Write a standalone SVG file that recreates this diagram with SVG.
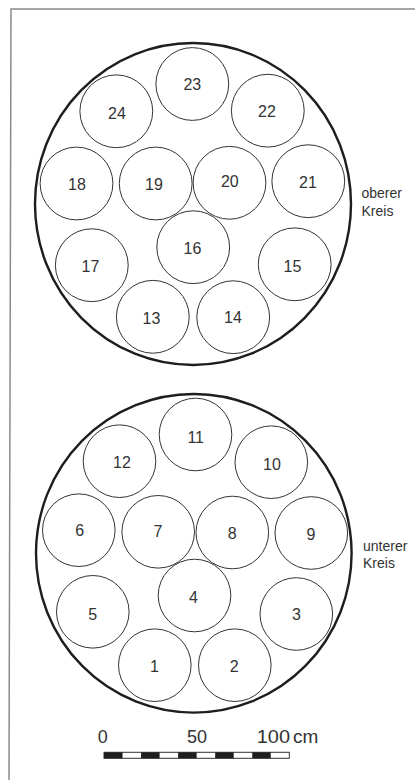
<svg xmlns="http://www.w3.org/2000/svg" width="415" height="780" viewBox="0 0 415 780">
<style>
.frame{fill:none;stroke:#8a8a8a;stroke-width:1.5}
.outer{fill:none;stroke:#1e1e1e;stroke-width:2.4}
.pot{fill:#fff;stroke:#333;stroke-width:1}
.num{font-family:"Liberation Sans",Arial,sans-serif;font-size:16px;fill:#333;text-anchor:middle}
.lbl{font-family:"Liberation Sans",Arial,sans-serif;font-size:14px;fill:#333}
.scale{font-family:"Liberation Sans",Arial,sans-serif;font-size:18px;fill:#333}
</style>
<rect width="415" height="780" fill="#fff"/>
<path class="frame" d="M9,780 L11,9 H415"/>

<g id="oberer-kreis">
  <ellipse class="outer" cx="193" cy="204" rx="158" ry="161"/>
</g>
<g id="n23"><circle class="pot" cx="192.3" cy="84" r="36.4"/><text class="num" x="192.3" y="90">23</text></g>
<g id="n24"><circle class="pot" cx="116.3" cy="111.3" r="36.4"/><text class="num" x="117" y="119">24</text></g>
<g id="n22"><circle class="pot" cx="267.8" cy="110.7" r="36.4"/><text class="num" x="267" y="116.5">22</text></g>
<g id="n18"><circle class="pot" cx="76.5" cy="183.5" r="36.4"/><text class="num" x="77" y="190">18</text></g>
<g id="n19"><circle class="pot" cx="155.7" cy="183.5" r="36.4"/><text class="num" x="154" y="190">19</text></g>
<g id="n20"><circle class="pot" cx="229.5" cy="182.8" r="36.4"/><text class="num" x="229.8" y="187">20</text></g>
<g id="n21"><circle class="pot" cx="308.3" cy="181.2" r="36.4"/><text class="num" x="308" y="188">21</text></g>
<g id="n16"><circle class="pot" cx="193.2" cy="247.2" r="36.4"/><text class="num" x="192.5" y="253.5">16</text></g>
<g id="n17"><circle class="pot" cx="91.8" cy="265.2" r="36.4"/><text class="num" x="90.5" y="272">17</text></g>
<g id="n15"><circle class="pot" cx="294.7" cy="264.3" r="36.4"/><text class="num" x="292.5" y="271.5">15</text></g>
<g id="n13"><circle class="pot" cx="152.8" cy="316.8" r="36.4"/><text class="num" x="151.5" y="324">13</text></g>
<g id="n14"><circle class="pot" cx="233.2" cy="317.2" r="36.4"/><text class="num" x="233" y="322.5">14</text></g>
<g id="label-oberer"><text class="lbl" x="361.5" y="198">oberer</text><text class="lbl" x="361.5" y="216">Kreis</text></g>

<g id="unterer-kreis">
  <ellipse class="outer" cx="193.8" cy="553.3" rx="157.8" ry="159.3"/>
</g>
<g id="n11"><circle class="pot" cx="195.5" cy="434.5" r="36.3"/><text class="num" x="195.7" y="443">11</text></g>
<g id="n12"><circle class="pot" cx="119.5" cy="461.2" r="36.3"/><text class="num" x="122" y="468">12</text></g>
<g id="n10"><circle class="pot" cx="271.3" cy="462.2" r="36.3"/><text class="num" x="272" y="469.5">10</text></g>
<g id="n6"><circle class="pot" cx="78.8" cy="530.2" r="36.3"/><text class="num" x="79.8" y="535.5">6</text></g>
<g id="n7"><circle class="pot" cx="158.2" cy="531.8" r="36.3"/><text class="num" x="158" y="536.8">7</text></g>
<g id="n8"><circle class="pot" cx="232.3" cy="532.5" r="36.3"/><text class="num" x="232.3" y="539.3">8</text></g>
<g id="n9"><circle class="pot" cx="311.3" cy="533" r="36.3"/><text class="num" x="311" y="540">9</text></g>
<g id="n4"><circle class="pot" cx="194.5" cy="595.5" r="36.3"/><text class="num" x="193.5" y="602.8">4</text></g>
<g id="n5"><circle class="pot" cx="92.8" cy="611.8" r="36.3"/><text class="num" x="92.7" y="620">5</text></g>
<g id="n3"><circle class="pot" cx="296.3" cy="614" r="36.3"/><text class="num" x="296.5" y="619.5">3</text></g>
<g id="n1"><circle class="pot" cx="154.8" cy="665.2" r="36.3"/><text class="num" x="154.5" y="672.2">1</text></g>
<g id="n2"><circle class="pot" cx="234.8" cy="665.2" r="36.3"/><text class="num" x="234.3" y="672">2</text></g>
<g id="label-unterer"><text class="lbl" x="363" y="550.5">unterer</text><text class="lbl" x="363" y="568.3">Kreis</text></g>

<g id="scalebar">
  <rect x="104" y="752.3" width="185.3" height="6" fill="#fff" stroke="#333" stroke-width="1"/>
  <g fill="#1e1e1e">
    <rect x="104" y="752.3" width="18.53" height="6"/>
    <rect x="141.06" y="752.3" width="18.53" height="6"/>
    <rect x="178.12" y="752.3" width="18.53" height="6"/>
    <rect x="215.18" y="752.3" width="18.53" height="6"/>
    <rect x="252.24" y="752.3" width="18.53" height="6"/>
  </g>
  <text class="scale" x="102.8" y="743.3" text-anchor="middle">0</text>
  <text class="scale" x="197" y="743.3" text-anchor="middle">50</text>
  <text class="scale" x="256.7" y="743.3" textLength="33.3" lengthAdjust="spacingAndGlyphs">100</text>
  <text class="scale" x="293" y="743.3" textLength="25.3" lengthAdjust="spacingAndGlyphs">cm</text>
</g>
</svg>
